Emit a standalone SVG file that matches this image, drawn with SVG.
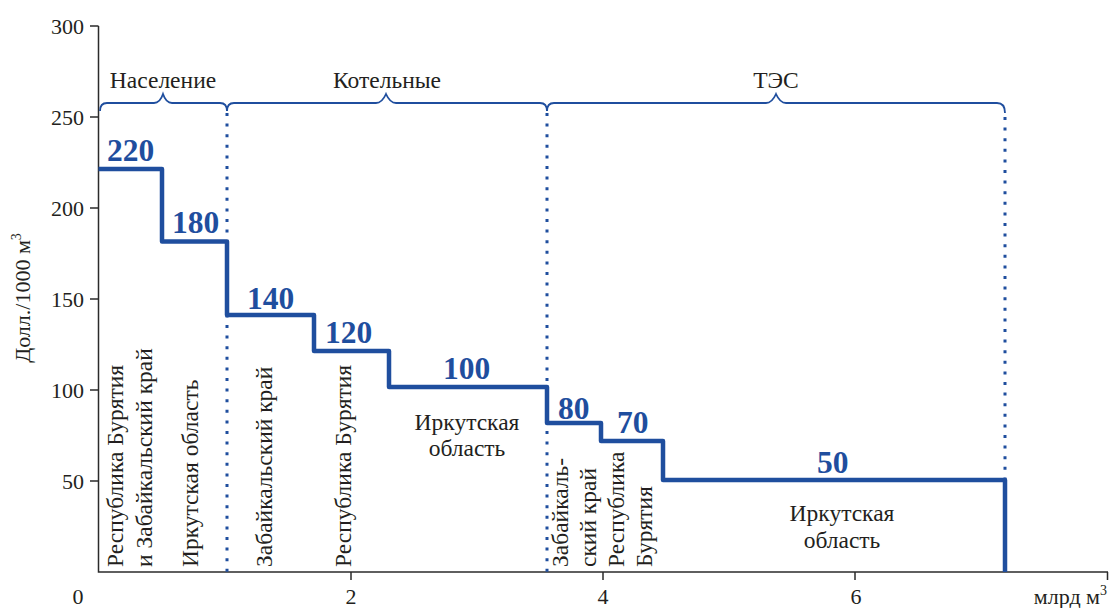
<svg xmlns="http://www.w3.org/2000/svg" width="1113" height="608" viewBox="0 0 1113 608">
<style>
.ax{stroke:#2b2b2b;stroke-width:1.5;fill:none}
.tk{font-family:"Liberation Serif",serif;font-size:22px;fill:#231f20}
.lb{font-family:"Liberation Serif",serif;font-size:23.5px;fill:#231f20}
.val{font-family:"Liberation Serif",serif;font-size:31.5px;font-weight:bold;fill:#1f4e9e}
.step{stroke:#1f4e9e;stroke-width:4.5;fill:none;stroke-linejoin:round}
.dot{stroke:#1f4e9e;stroke-width:3;stroke-dasharray:3 7.6;fill:none}
.br{stroke:#1f4e9e;stroke-width:1.8;fill:none}
</style>
<rect width="1113" height="608" fill="#ffffff"/>
<g id="axes">
<path class="ax" d="M98.5,26 V572 H1108"/>
<path class="ax" d="M90,26 H98.5 M90,117 H98.5 M90,208 H98.5 M90,299 H98.5 M90,390 H98.5 M90,481 H98.5"/>
<path class="ax" d="M351,572 V580 M603,572 V580 M855,572 V580 M1107.5,572 V580"/>
<g class="tk" text-anchor="end">
<text x="84" y="34">300</text>
<text x="84" y="125">250</text>
<text x="84" y="216">200</text>
<text x="84" y="307">150</text>
<text x="84" y="398">100</text>
<text x="84" y="489">50</text>
</g>
<g class="tk" text-anchor="middle">
<text x="78" y="604">0</text>
<text x="351" y="604">2</text>
<text x="603" y="604">4</text>
<text x="856" y="604">6</text>
</g>
<text class="tk" x="1107" y="604" text-anchor="end">млрд м<tspan font-size="14" dy="-9">3</tspan></text>
<text class="tk" font-size="23" transform="translate(30,298) rotate(-90)" text-anchor="middle">Долл./1000 м<tspan font-size="14" dy="-9">3</tspan></text>
</g>
<g id="connectors">
<path class="dot" d="M227,113 V572"/>
<path class="dot" d="M547,113 V572"/>
<path class="dot" d="M1005,117 V572"/>
<path class="step" d="M98.5,169 H162 V241.5 H227 V315 H314 V351 H389 V387 H547 V423 H601 V441 H663 V480 H1005 V572"/>
</g>
<g id="brace-naselenie">
<path class="br" d="M100,111 Q100,103 107,103 H154 Q160,103 163,94 Q166,103 172,103 H220 Q227,103 227,111"/>
<text class="lb" x="163" y="88" text-anchor="middle">Население</text>
</g>
<g id="brace-kotelnye">
<path class="br" d="M227,111 Q227,103 234,103 H376 Q382,103 386,94 Q390,103 396,103 H540 Q547,103 547,111"/>
<text class="lb" x="387" y="88" text-anchor="middle">Котельные</text>
</g>
<g id="brace-tes">
<path class="br" d="M547,111 Q547,103 554,103 H766 Q772,103 776,94 Q780,103 786,103 H997 Q1005,103 1005,113"/>
<text class="lb" x="776" y="88" text-anchor="middle">ТЭС</text>
</g>
<g id="values">
<text class="val" x="107" y="161">220</text>
<text class="val" x="172" y="233">180</text>
<text class="val" x="247" y="309">140</text>
<text class="val" x="325" y="343">120</text>
<text class="val" x="443" y="379">100</text>
<text class="val" x="558" y="419">80</text>
<text class="val" x="617" y="433">70</text>
<text class="val" x="817" y="473">50</text>
</g>
<g id="region-labels" class="lb">
<text transform="translate(123,567) rotate(-90)">Республика Бурятия</text>
<text transform="translate(152,567) rotate(-90)">и Забайкальский край</text>
<text transform="translate(198,567) rotate(-90)">Иркутская область</text>
<text transform="translate(272,567) rotate(-90)">Забайкальский край</text>
<text transform="translate(351,567) rotate(-90)">Республика Бурятия</text>
<text x="467" y="430" text-anchor="middle">Иркутская</text>
<text x="467" y="456" text-anchor="middle">область</text>
<text transform="translate(568,567) rotate(-90)">Забайкаль-</text>
<text transform="translate(596,567) rotate(-90)">ский край</text>
<text transform="translate(624,567) rotate(-90)">Республика</text>
<text transform="translate(652,567) rotate(-90)">Бурятия</text>
<text x="842" y="521" text-anchor="middle">Иркутская</text>
<text x="842" y="548" text-anchor="middle">область</text>
</g>
</svg>
